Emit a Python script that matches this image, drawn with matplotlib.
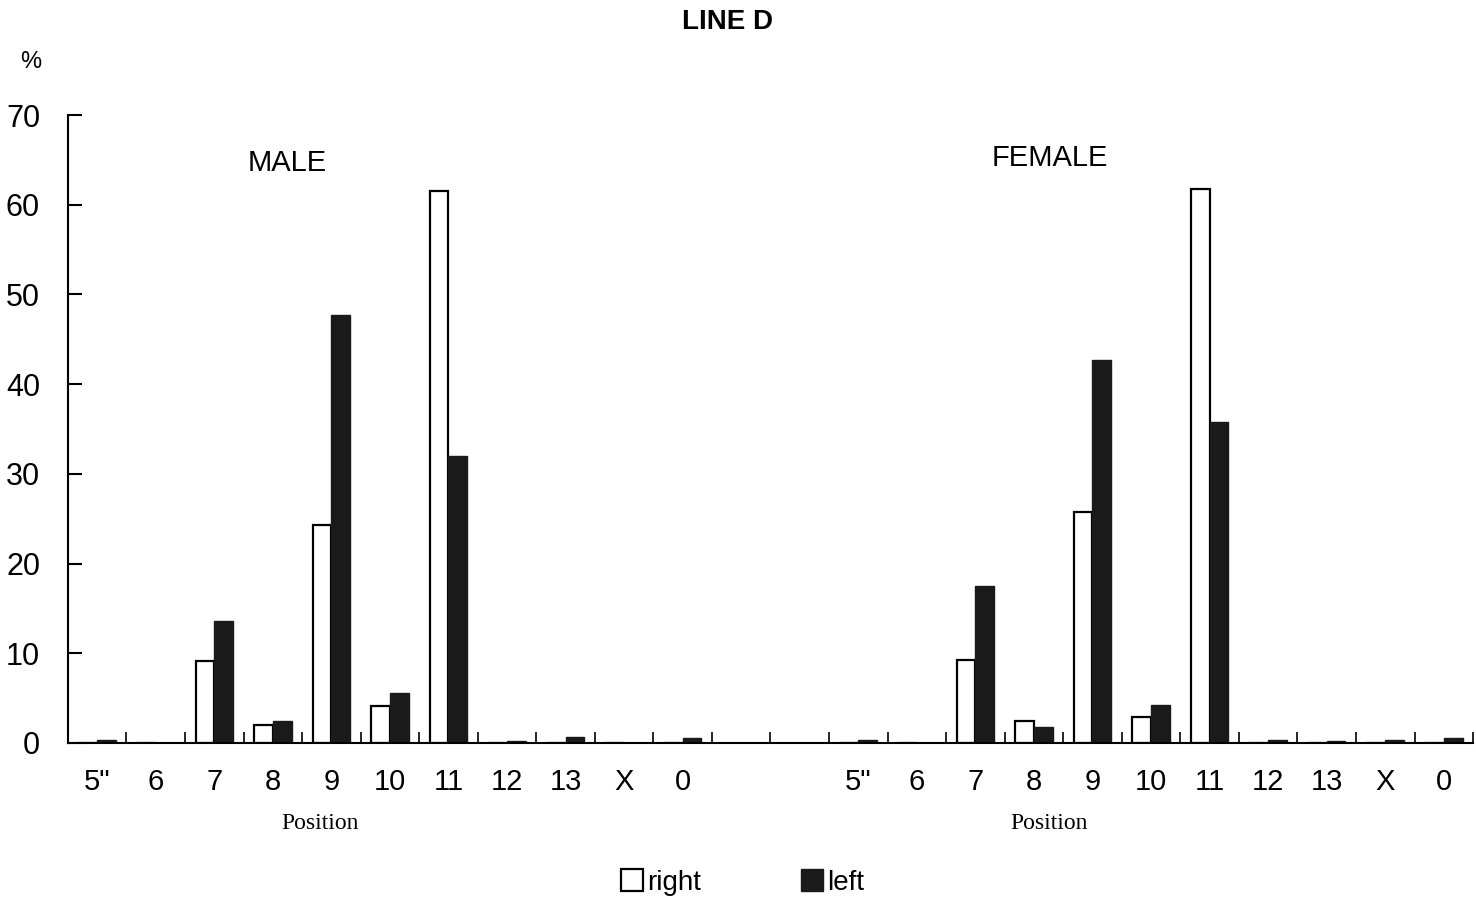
import matplotlib
matplotlib.use("Agg")
import matplotlib.pyplot as plt
import numpy as np
from matplotlib.patches import Patch

positions = ['5"', "6", "7", "8", "9", "10", "11", "12", "13", "X", "0"]
male_right = [0.0, 0.0, 9.1, 2.0, 24.3, 4.1, 61.5, 0.0, 0.0, 0.0, 0.0]
male_left = [0.3, 0.0, 13.6, 2.4, 47.7, 5.6, 32.0, 0.2, 0.7, 0.0, 0.5]
female_right = [0.0, 0.0, 9.3, 2.4, 25.8, 2.9, 61.8, 0.0, 0.0, 0.0, 0.0]
female_left = [0.3, 0.0, 17.5, 1.8, 42.7, 4.2, 35.8, 0.3, 0.2, 0.3, 0.6]
groups = ["MALE", "FEMALE"]

plt.rcParams["font.family"] = "Liberation Sans"

fig = plt.figure(figsize=(14.76, 9.06), dpi=100)
ax = fig.add_axes([0.046, 0.18, 0.952, 0.693])

n = len(positions)
gap = 2
x_m = np.arange(n)
x_f = np.arange(n) + n + gap
w = 0.32

for xs, r, l in ((x_m, male_right, male_left), (x_f, female_right, female_left)):
    ax.bar(xs - w / 2, r, w, color="white", edgecolor="black", linewidth=1.6)
    ax.bar(xs + w / 2, l, w, color="#1a1a1a", edgecolor="#1a1a1a", linewidth=1.0)

ax.set_xlim(-0.5, x_f[-1] + 0.5)
ax.set_ylim(0, 70)
ax.set_yticks(range(0, 71, 10))
ax.tick_params(axis="y", direction="in", length=10, width=1.5, pad=20, labelsize=22)
ax.set_xticks(np.concatenate([x_m, x_f]))
ax.set_xticklabels(positions * 2)
ax.tick_params(axis="x", which="major", length=0, pad=18, labelsize=21)
ax.set_xticks(np.arange(-0.5, x_f[-1] + 0.6, 1.0), minor=True)
ax.tick_params(axis="x", which="minor", direction="in", length=8, width=1.2)

for s in ("top", "right"):
    ax.spines[s].set_visible(False)
for s in ("left", "bottom"):
    ax.spines[s].set_linewidth(1.5)

ax.text(3.25, 64.7, groups[0], ha="center", va="center", fontsize=21)
ax.text(16.27, 65.2, groups[1], ha="center", va="center", fontsize=21)
for xc in (3.8, 16.26):
    ax.text(xc, -9.0, "Position", ha="center", va="center",
            fontsize=17, family="Liberation Serif")

fig.text(0.493, 0.976, "LINE D", ha="center", va="center", fontsize=20, fontweight="bold")
fig.text(0.021, 0.932, "%", ha="center", va="center", fontsize=17)

handles = [Patch(facecolor="white", edgecolor="black", linewidth=1.6, label="right"),
           Patch(facecolor="#1a1a1a", edgecolor="#1a1a1a", label="left")]
fig.legend(handles=handles, loc="center", bbox_to_anchor=(0.503, 0.026), ncol=2,
           frameon=False, fontsize=20, handlelength=0.8, handleheight=0.8,
           handletextpad=0.15, columnspacing=3.6)

fig.savefig("out.png", dpi=100)
